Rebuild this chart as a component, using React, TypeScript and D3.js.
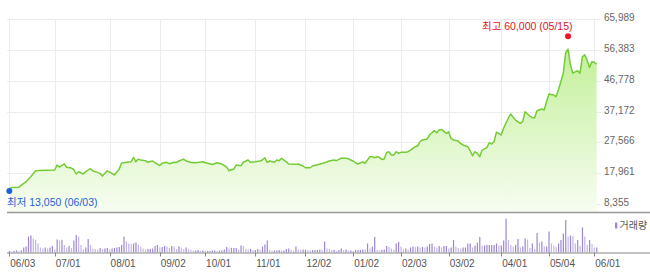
import React from "react";
import * as d3 from "d3";

// trading-day index (0 = 2019-06-03) and closing prices
const priceDays = [0,1,4,7,9,11,15,19,20,21,23,24,26,27,28,29,31,32,34,35,37,38,39,41,42,44,46,47,49,51,52,53,54,55,57,58,60,61,62,63,64,66,67,69,70,71,73,74,76,77,79,81,82,83,85,87,89,91,92,94,95,97,98,100,101,103,105,106,107,108,109,111,112,113,114,116,117,120,121,123,124,126,127,129,131,132,134,136,137,138,139,141,142,143,144,145,146,148,149,150,151,152,153,154,155,156,157,158,159,160,161,162,163,164,166,167,168,170,171,172,173,175,176,178,179,180,181,183,184,185,186,188,189,190,192,193,194,195,196,197,198,200,201,202,203,204,205,206,207,209,210,211,212,213,214,215,216,218,219,220,221,223,224,225,226,228,229,230,231,232,233,234,235,236,237,238,239,240,241,242,243,244,245,246];
const priceCloses = [13050,13500,13600,15300,16850,18700,18850,18950,20500,19850,20850,19800,19550,19100,17700,18400,17700,18450,19350,18650,18200,17900,17050,18700,18300,17400,19150,21050,21350,21500,22850,21500,22350,22050,21850,21350,21750,21200,20800,20350,21050,21350,20900,21350,21300,21750,22350,21750,21350,21200,21300,21500,21200,21050,20650,21200,20800,19950,18700,19250,20500,20300,21350,22050,21350,21500,21750,22050,22750,21350,21750,21350,22050,21850,22600,21500,20800,20700,20800,20200,19650,19650,20200,20600,20950,21200,21750,22050,21850,22250,22600,22600,22450,22050,21750,21200,20800,21500,21050,22050,23100,23100,22750,23100,22900,22250,22350,24350,24650,23600,23600,24650,24150,24450,24450,24650,25150,26200,26400,27750,28300,28600,29850,31200,30550,31400,31600,30350,30850,28800,28300,27950,27250,26750,26200,24950,23400,24650,24150,23100,25150,25900,27450,27050,27750,30700,30350,29850,31950,35150,36400,35350,34500,34000,33500,34000,37100,35750,35250,35250,37400,37950,37650,40200,42600,42300,41800,44000,46500,49000,55500,56600,51700,49100,49500,49900,49100,54200,54800,53200,50900,52700,52500,51950];

// daily volume (thousand shares), index 0..246
const volumes = [
150,100,150,200,150,
200,500,
600,1600,1700,1400,1270,900,500,400,500,400,500,650,300,
1300,1200,1270,750,500,650,450,1200,1750,1600,
750,350,500,1350,750,400,350,300,450,350,
400,450,300,400,450,500,550,750,1600,1100,
900,850,900,1000,800,600,400,300,350,350,
400,650,750,500,550,650,600,450,650,600,
350,600,500,350,500,350,250,200,200,250,
150,200,150,150,150,200,200,150,200,200,
300,550,400,450,450,450,300,700,650,350,
300,350,250,250,350,250,600,800,1200,250,
200,200,200,250,200,200,350,400,250,200,
600,300,250,300,300,250,200,250,250,250,
300,250,1100,400,350,250,250,150,250,400,
250,300,200,200,150,250,250,250,300,250,
900,400,600,1550,250,200,250,300,650,550,
400,300,900,1050,600,300,400,300,500,600,
550,600,500,550,500,600,850,900,600,500,
650,500,650,650,400,500,1250,600,450,400,
500,500,900,900,500,700,1000,1550,700,700,
750,750,750,750,900,700,700,1200,3370,1250,
750,600,750,1350,500,600,1400,1300,450,900,
350,1950,1000,1100,600,600,2100,900,700,550,
900,1250,1900,3250,1600,1700,1650,900,1250,650,
2500,1600,750,1250,850,500,500
];

const tickDays = [0,19,42,63,82,103,124,144,164,184,206,226,245];
const tickLabels = ["06/03","07/01","08/01","09/02","10/01","11/01","12/02","01/02","02/03","03/02","04/01","05/04","06/01"];
const yTicks = [8355,17961,27566,37172,46778,56383,65989];

const highValue = 60000;
const highDay = 234;
const highLabel = "최고 60,000 (05/15)";
const lowValue = 13050;
const lowDay = 0;
const lowLabel = "최저 13,050 (06/03)";
const volumeLegend = "거래량";

const W = 650, H = 273;
const FONT = "'Liberation Sans', Arial, 'Noto Sans CJK KR', sans-serif";

export default function App() {
  const x = d3.scaleLinear().domain([0, 245]).range([9.3, 594.3]);
  const y = d3.scaleLinear().domain([8355, 65989]).range([204, 19]);
  const priceBottom = 212.5;
  const volBase = 252.5;
  const yv = d3.scaleLinear().domain([0, d3.max(volumes) as number]).range([volBase, volBase - 33.7]);

  const pts = priceDays.map((d, i) => [d, priceCloses[i]] as [number, number]);
  const line = d3.line<[number, number]>().x(d => x(d[0])).y(d => y(d[1]));
  const area = d3.area<[number, number]>().x(d => x(d[0])).y0(priceBottom).y1(d => y(d[1]));

  const gridLeft = 7, gridRight = 601;

  return (
    <svg width={W} height={H} style={{ position: "absolute", left: 0, top: 0, background: "#fff" }}
      fontFamily={FONT}>
      <defs>
        <linearGradient id="areaGrad" x1="0" y1="0" x2="0" y2="1">
          <stop offset="0%" stopColor="#c3f09a" />
          <stop offset="100%" stopColor="#f7fdf2" />
        </linearGradient>
      </defs>
      {/* horizontal grid */}
      {yTicks.map(t => (
        <line key={"h" + t} x1={gridLeft} x2={gridRight} y1={Math.round(y(t)) + 0.5} y2={Math.round(y(t)) + 0.5}
          stroke="#ececec" strokeWidth={1} />
      ))}
      {/* vertical grid */}
      {tickDays.map(d => (
        <line key={"v" + d} x1={Math.round(x(d)) + 0.5} x2={Math.round(x(d)) + 0.5} y1={19} y2={priceBottom}
          stroke="#ececec" strokeWidth={1} />
      ))}
      {/* area + line */}
      <path d={area(pts) as string} fill="url(#areaGrad)" />
      <path d={line(pts) as string} fill="none" stroke="#74cc34" strokeWidth={1.5} strokeLinejoin="round" />
      {/* bottom line of price pane */}
      <line x1={gridLeft} x2={W} y1={priceBottom} y2={priceBottom} stroke="#999" strokeWidth={1.6} />
      {/* y labels */}
      {yTicks.map(t => (
        <text key={"yl" + t} x={604} y={y(t) + 2} fontSize={10} fill="#666">{d3.format(",")(t)}</text>
      ))}
      {/* high / low markers */}
      <circle cx={x(highDay)} cy={y(highValue) - 2} r={3} fill="#f0141e" />
      <text x={x(highDay) + 4.5} y={29.5} fontSize={10.5} fill="#e5141e" textAnchor="end">{highLabel}</text>
      <circle cx={x(lowDay)} cy={y(lowValue) + 2} r={3} fill="#1d62d8" />
      <text x={7} y={205.5} fontSize={10.5} fill="#1d62d8">{lowLabel}</text>
      {/* volume bars */}
      {volumes.map((v, i) => (
        <rect key={"vb" + i} x={x(i) - 0.5} width={1.2} y={yv(v)} height={volBase - yv(v)}
          fill={i > 0 && v < volumes[i - 1] ? "#c4b6e8" : "#9d86d6"} />
      ))}
      {/* volume axis */}
      <line x1={gridLeft} x2={W} y1={volBase + 0.5} y2={volBase + 0.5} stroke="#888" strokeWidth={1} />
      {tickDays.map((d, i) => (
        <g key={"t" + d}>
          <line x1={Math.round(x(d)) + 0.5} x2={Math.round(x(d)) + 0.5} y1={volBase} y2={volBase + 4} stroke="#888" />
          <text x={x(d) + 1} y={267} fontSize={10} fill="#555">{tickLabels[i]}</text>
        </g>
      ))}
      {/* legend */}
      <rect x={615} y={222.5} width={2.3} height={6} fill="#9d86d6" />
      <text x={619.5} y={229} fontSize={10} fill="#555">{volumeLegend}</text>
    </svg>
  );
}
